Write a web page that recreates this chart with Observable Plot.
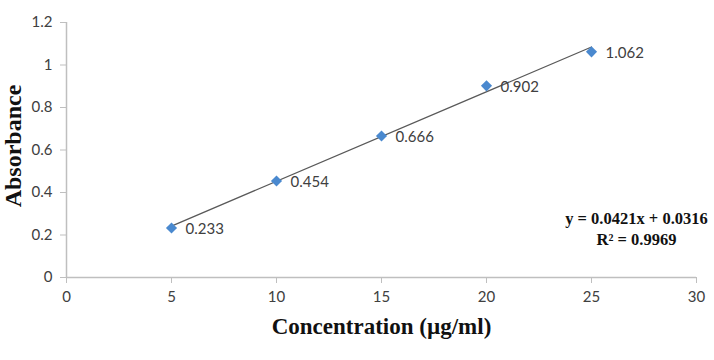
<!DOCTYPE html>
<html>
<head>
<meta charset="utf-8">
<script src="https://cdn.jsdelivr.net/npm/d3@7"></script>
<script src="https://cdn.jsdelivr.net/npm/@observablehq/plot@0.6"></script>
<style>
  html, body { margin: 0; padding: 0; background: #fff; }
  #chart svg { display: block; }
</style>
</head>
<body>
<div id="chart"></div>
<script>
const concentration = [5, 10, 15, 20, 25];
const absorbance = [0.233, 0.454, 0.666, 0.902, 1.062];
const pointLabels = ["0.233", "0.454", "0.666", "0.902", "1.062"];
const xTicks = [0, 5, 10, 15, 20, 25, 30];
const yTicks = [0, 0.2, 0.4, 0.6, 0.8, 1, 1.2];
const yTickLabels = ["0", "0.2", "0.4", "0.6", "0.8", "1", "1.2"];
const equationText = "y = 0.0421x + 0.0316\nR² = 0.9969";
const xTitle = "Concentration (µg/ml)";
const yTitle = "Absorbance";

const data = concentration.map((c, i) => ({x: c, y: absorbance[i], label: pointLabels[i]}));

const axisColor = "#bfbfbf";
const tickFont = "Lato, 'Open Sans', sans-serif";
const serif = "'Liberation Serif', 'Times New Roman', serif";

const chart = Plot.plot({
  width: 714,
  height: 360,
  marginLeft: 66,
  marginRight: 18,
  marginTop: 22,
  marginBottom: 83,
  style: {background: "#fff", overflow: "visible"},
  x: {domain: [0, 30]},
  y: {domain: [0, 1.2]},
  marks: [
    Plot.ruleY([0], {stroke: axisColor, strokeWidth: 1.5}),
    Plot.ruleX([0], {stroke: axisColor, strokeWidth: 1.5}),
    Plot.axisX({ticks: xTicks, tickSize: 6, tickPadding: 8, stroke: axisColor, fill: "#404040", fontSize: 15, fontFamily: tickFont, label: null, tickFormat: d => String(d)}),
    Plot.axisY({ticks: yTicks, tickSize: 6, tickPadding: 8, stroke: axisColor, fill: "#404040", fontSize: 15, fontFamily: tickFont, label: null, tickFormat: d => yTickLabels[yTicks.indexOf(d)]}),
    Plot.linearRegressionY(data, {x: "x", y: "y", stroke: "#595959", strokeWidth: 1.3, ci: 0}),
    Plot.dot(data, {x: "x", y: "y", symbol: "diamond2", r: 5, fill: "#4a89cf", stroke: "none"}),
    Plot.text(data, {x: "x", y: "y", text: "label", textAnchor: "start", dx: 14, dy: 1, fontSize: 15, fontFamily: tickFont, fill: "#404040"}),
    Plot.text([equationText], {frameAnchor: "right", dx: -60, dy: 78, textAnchor: "middle", lineHeight: 1.25, fontSize: 16.5, fontWeight: "bold", fontFamily: serif, fill: "#111"}),
    Plot.text([yTitle], {frameAnchor: "left", textAnchor: "middle", rotate: -90, dx: -53, dy: -4, fontSize: 24, fontWeight: "bold", fontFamily: serif, fill: "#111"}),
    Plot.text([xTitle], {frameAnchor: "bottom", dy: 56, fontSize: 23, fontWeight: "bold", fontFamily: serif, fill: "#111"})
  ]
});
document.getElementById("chart").appendChild(chart);
</script>
</body>
</html>
